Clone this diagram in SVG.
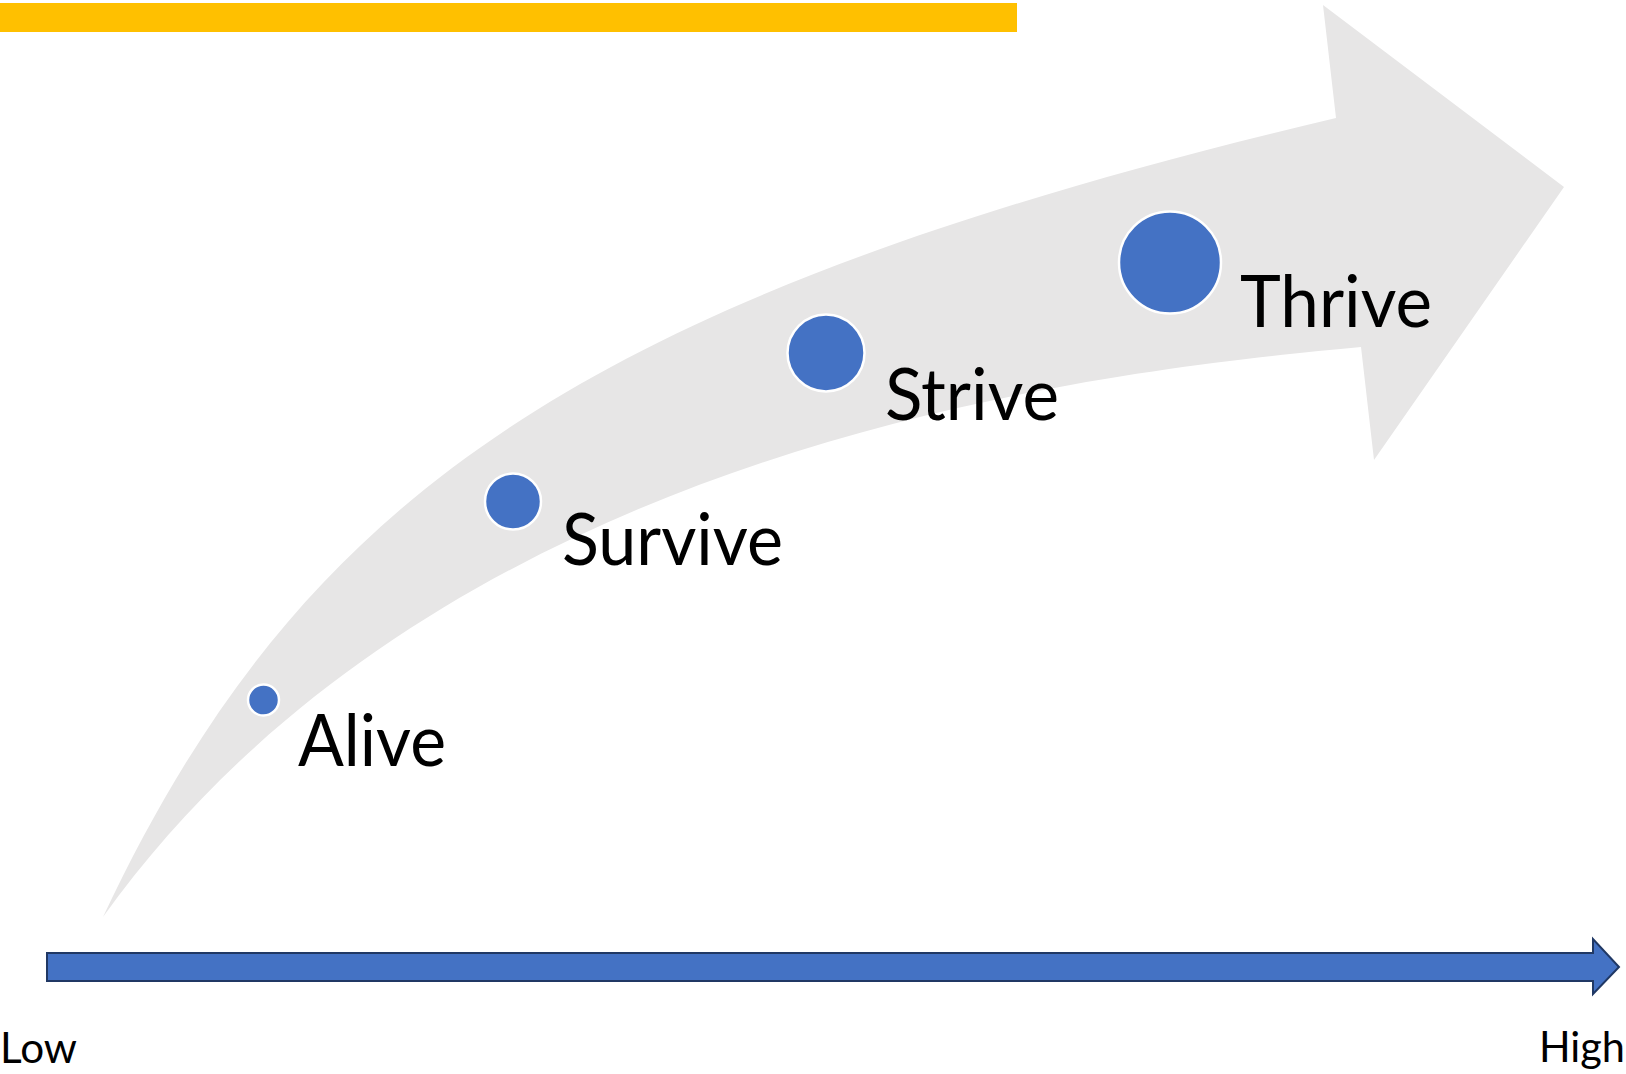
<svg xmlns="http://www.w3.org/2000/svg" width="1626" height="1074" viewBox="0 0 1626 1074">
<style>
.dot{fill:#4472C4;stroke:#FFFFFF;stroke-width:2.5}
.lbl{font-family:Lato,"Open Sans","Liberation Sans",sans-serif;font-size:71px;fill:#000000}
.ax{font-family:Lato,"Open Sans","Liberation Sans",sans-serif;font-size:42px;fill:#000000}
</style>
<rect x="0" y="3" width="1017" height="29" fill="#FFC000"/>
<g id="curved-arrow">
<path d="M103,917 C300,499 576,298 1336,118 L1323,5 L1564,187 L1374,460 L1361,347 C1103,371 445,440 103,917 Z" fill="#E7E6E6"/>
</g>
<g id="connectors">
<path d="M47,953 H1593 V939 L1619,967 L1593,994 V981 H47 Z" fill="#4472C4" stroke="#203864" stroke-width="2" stroke-linejoin="miter"/>
</g>
<g id="alive">
<circle class="dot" cx="263.5" cy="700" r="15.5"/>
<text class="lbl" x="298" y="766" textLength="148" lengthAdjust="spacingAndGlyphs">Alive</text>
</g>
<g id="survive">
<circle class="dot" cx="513" cy="501.5" r="28"/>
<text class="lbl" x="562" y="565" textLength="221" lengthAdjust="spacingAndGlyphs">Survive</text>
</g>
<g id="strive">
<circle class="dot" cx="826" cy="353" r="38.5"/>
<text class="lbl" x="885" y="420" textLength="174" lengthAdjust="spacingAndGlyphs">Strive</text>
</g>
<g id="thrive">
<circle class="dot" cx="1170" cy="262.5" r="51"/>
<text class="lbl" x="1240" y="327" textLength="192" lengthAdjust="spacingAndGlyphs">Thrive</text>
</g>
<g id="low">
<text class="ax" x="0" y="1063" textLength="77" lengthAdjust="spacingAndGlyphs">Low</text>
</g>
<g id="high">
<text class="ax" x="1539" y="1062" textLength="86" lengthAdjust="spacingAndGlyphs">High</text>
</g>
</svg>
